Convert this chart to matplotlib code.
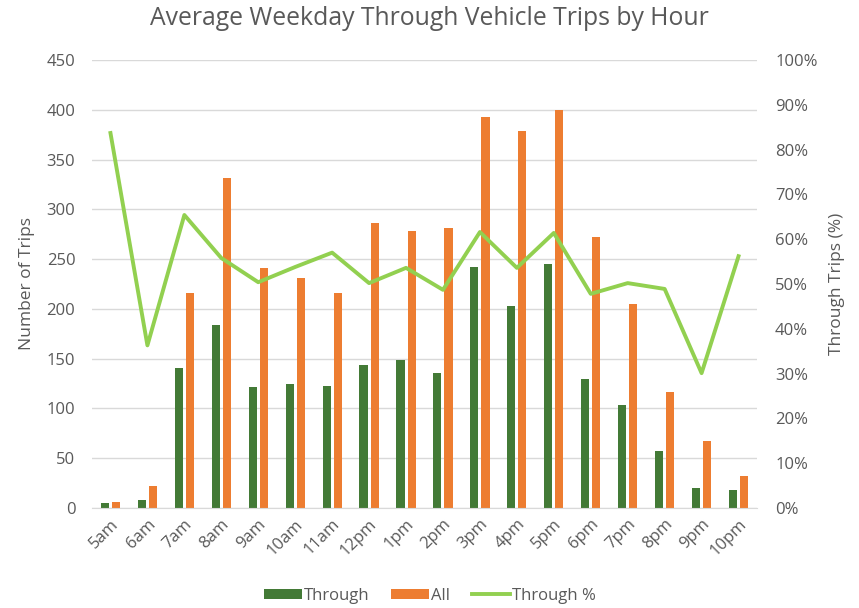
import matplotlib
matplotlib.use("Agg")
import matplotlib.pyplot as plt
import numpy as np
from matplotlib.ticker import FuncFormatter, MultipleLocator

hours = ["5am", "6am", "7am", "8am", "9am", "10am", "11am", "12pm", "1pm",
         "2pm", "3pm", "4pm", "5pm", "6pm", "7pm", "8pm", "9pm", "10pm"]
through = [5, 8, 141, 184, 122, 125, 123, 144, 149, 136, 242, 203, 245, 130, 103, 57, 20, 18]
all_trips = [6, 22, 216, 331, 241, 231, 216, 286, 278, 281, 393, 379, 400, 272, 205, 117, 67, 32]
through_pct = [83.7, 36.3, 65.4, 55.8, 50.4, 53.8, 57.0, 50.2, 53.6, 48.7, 61.6, 53.6, 61.4,
               47.8, 50.2, 48.9, 30.1, 56.2]

plt.rcParams['font.family'] = ['Open Sans', 'DejaVu Sans']
txt = "#595959"

fig = plt.figure(figsize=(8.59, 6.08), dpi=100)
ax = fig.add_axes([92/859, 1-508/608, (757-92)/859, (508-60)/608])
x = np.arange(len(hours))
w = 0.22
b1 = ax.bar(x - 0.15, through, w, color="#437a36", label="Through", zorder=2)
b2 = ax.bar(x + 0.15, all_trips, w, color="#ed7d31", label="All", zorder=2)
ax.set_ylim(0, 450)
ax.set_xlim(-0.5, len(hours) - 0.5)
ax.yaxis.set_major_locator(MultipleLocator(50))
ax.grid(axis="y", color="#d9d9d9", linewidth=1, zorder=0)
ax.set_axisbelow(True)
for s in ax.spines.values():
    s.set_visible(False)
ax.spines["bottom"].set_visible(True)
ax.spines["bottom"].set_color("#d9d9d9")
ax.tick_params(axis="both", length=0, colors=txt, labelsize=12)
ax.tick_params(axis="y", pad=12)
ax.tick_params(axis="x", pad=6)
ax.set_xticks(x)
ax.set_xticklabels(hours, rotation=45, ha="right", rotation_mode="anchor")
ax.set_ylabel("Number of Trips", color=txt, fontsize=12.5, labelpad=8)

ax2 = ax.twinx()
l1, = ax2.plot(x, through_pct, color="#92d050", linewidth=2.8, label="Through %", zorder=3)
ax2.set_ylim(0, 100)
ax2.yaxis.set_major_locator(MultipleLocator(10))
ax2.yaxis.set_major_formatter(FuncFormatter(lambda v, p: f"{int(v)}%"))
for s in ax2.spines.values():
    s.set_visible(False)
ax2.tick_params(axis="y", length=0, colors=txt, labelsize=12, pad=13)
ax2.set_ylabel("Through Trips (%)", color=txt, fontsize=12.5, labelpad=8)

fig.suptitle("Average Weekday Through Vehicle Trips by Hour", x=0.5, y=0.99,
             fontsize=17.8, color=txt)

leg = fig.legend([b1, b2, l1], ["Through", "All", "Through %"], loc="center",
                 bbox_to_anchor=(0.5, 1-596/608), ncol=3, frameon=False,
                 fontsize=12, handlelength=2.3, handleheight=0.6, columnspacing=1.3,
                 handletextpad=0.1)
for t in leg.get_texts():
    t.set_color(txt)

fig.savefig("out.png", dpi=100)
